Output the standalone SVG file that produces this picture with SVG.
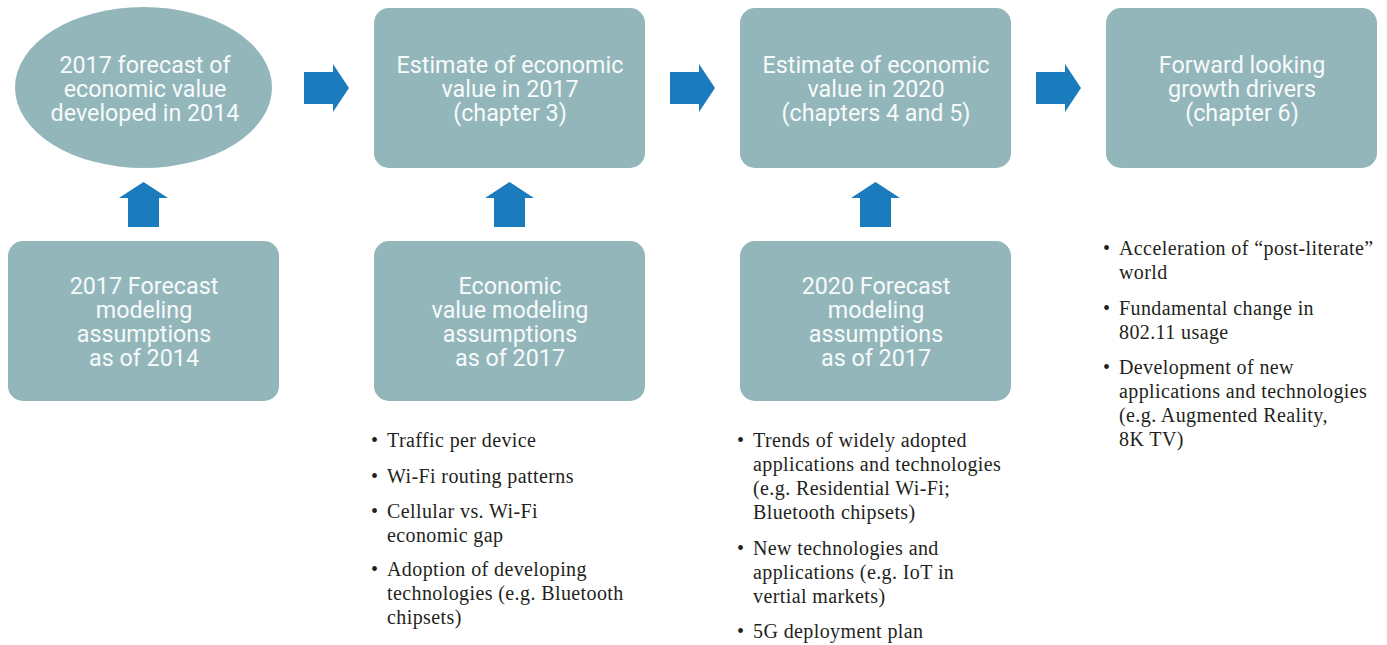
<svg xmlns="http://www.w3.org/2000/svg" width="1387" height="645" viewBox="0 0 1387 645">
<style>
.n{fill:#93b6ba}
.t{font-family:Roboto,"Liberation Sans",sans-serif;font-size:23.3px;fill:#f7fafa;text-anchor:middle}
.b{font-family:"Liberation Serif","DejaVu Serif",serif;font-size:20px;letter-spacing:0.4px;fill:#231f20}
.a{fill:#1a7bbd}
</style>
<rect width="1387" height="645" fill="#ffffff"/>
<g id="connectors">
<path class="a" d="M304,72 H333 V64 L349,88 L333,112 V104 H304 Z"/>
<path class="a" d="M670,72 H699 V64 L715,88 L699,112 V104 H670 Z"/>
<path class="a" d="M1036,72 H1065 V64 L1081,88 L1065,112 V104 H1036 Z"/>
<path class="a" d="M128,227 V198 H119 L143.5,182 L168,198 H159 V227 Z"/>
<path class="a" d="M494,227 V198 H485 L509.5,182 L534,198 H525 V227 Z"/>
<path class="a" d="M860,227 V198 H851 L875.5,182 L900,198 H891 V227 Z"/>
</g>
<g id="n1">
<ellipse class="n" cx="143.5" cy="87.5" rx="128.5" ry="80.5"/>
<text class="t"><tspan x="145" y="73">2017 forecast of</tspan><tspan x="145" y="97">economic value</tspan><tspan x="145" y="121">developed in 2014</tspan></text>
</g>
<g id="n2">
<rect class="n" x="374" y="8" width="271" height="160" rx="15"/>
<text class="t"><tspan x="510" y="73">Estimate of economic</tspan><tspan x="510" y="97">value in 2017</tspan><tspan x="510" y="121">(chapter 3)</tspan></text>
</g>
<g id="n3">
<rect class="n" x="740" y="8" width="271" height="160" rx="15"/>
<text class="t"><tspan x="876" y="73">Estimate of economic</tspan><tspan x="876" y="97">value in 2020</tspan><tspan x="876" y="121">(chapters 4 and 5)</tspan></text>
</g>
<g id="n4">
<rect class="n" x="1106" y="8" width="271" height="160" rx="15"/>
<text class="t"><tspan x="1242" y="73">Forward looking</tspan><tspan x="1242" y="97">growth drivers</tspan><tspan x="1242" y="121">(chapter 6)</tspan></text>
</g>
<g id="n5">
<rect class="n" x="8" y="241" width="271" height="160" rx="15"/>
<text class="t"><tspan x="144" y="294">2017 Forecast</tspan><tspan x="144" y="318">modeling</tspan><tspan x="144" y="342">assumptions</tspan><tspan x="144" y="366">as of 2014</tspan></text>
</g>
<g id="n6">
<rect class="n" x="374" y="241" width="271" height="160" rx="15"/>
<text class="t"><tspan x="510" y="294">Economic</tspan><tspan x="510" y="318">value modeling</tspan><tspan x="510" y="342">assumptions</tspan><tspan x="510" y="366">as of 2017</tspan></text>
</g>
<g id="n7">
<rect class="n" x="740" y="241" width="271" height="160" rx="15"/>
<text class="t"><tspan x="876" y="294">2020 Forecast</tspan><tspan x="876" y="318">modeling</tspan><tspan x="876" y="342">assumptions</tspan><tspan x="876" y="366">as of 2017</tspan></text>
</g>
<g id="list2">
<text class="b"><tspan x="371" y="447">•</tspan><tspan x="387" y="447">Traffic per device</tspan>
<tspan x="371" y="483">•</tspan><tspan x="387" y="483">Wi-Fi routing patterns</tspan>
<tspan x="371" y="518">•</tspan><tspan x="387" y="518">Cellular vs. Wi-Fi</tspan><tspan x="387" y="542">economic gap</tspan>
<tspan x="371" y="576">•</tspan><tspan x="387" y="576">Adoption of developing</tspan><tspan x="387" y="600">technologies (e.g. Bluetooth</tspan><tspan x="387" y="624">chipsets)</tspan></text>
</g>
<g id="list3">
<text class="b"><tspan x="737" y="447">•</tspan><tspan x="753" y="447">Trends of widely adopted</tspan><tspan x="753" y="471">applications and technologies</tspan><tspan x="753" y="495">(e.g. Residential Wi-Fi;</tspan><tspan x="753" y="519">Bluetooth chipsets)</tspan>
<tspan x="737" y="555">•</tspan><tspan x="753" y="555">New technologies and</tspan><tspan x="753" y="579">applications (e.g. IoT in</tspan><tspan x="753" y="603">vertial markets)</tspan>
<tspan x="737" y="638">•</tspan><tspan x="753" y="638">5G deployment plan</tspan></text>
</g>
<g id="list4">
<text class="b"><tspan x="1103" y="255">•</tspan><tspan x="1119" y="255">Acceleration of “post-literate”</tspan><tspan x="1119" y="279">world</tspan>
<tspan x="1103" y="315">•</tspan><tspan x="1119" y="315">Fundamental change in</tspan><tspan x="1119" y="339">802.11 usage</tspan>
<tspan x="1103" y="374">•</tspan><tspan x="1119" y="374">Development of new</tspan><tspan x="1119" y="398">applications and technologies</tspan><tspan x="1119" y="422">(e.g. Augmented Reality,</tspan><tspan x="1119" y="446">8K TV)</tspan></text>
</g>
</svg>
